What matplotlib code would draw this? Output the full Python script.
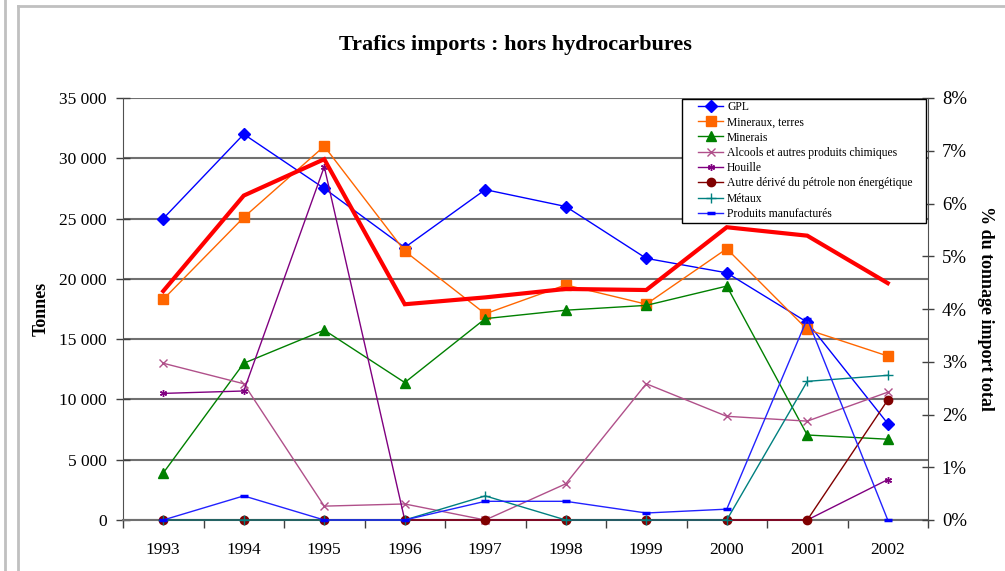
import matplotlib
matplotlib.use("Agg")
import matplotlib.pyplot as plt
from matplotlib.lines import Line2D
from matplotlib.patches import Rectangle
from matplotlib.ticker import FuncFormatter, FixedLocator
import numpy as np

plt.rcParams['font.family'] = ['Liberation Serif', 'DejaVu Serif']

years = ['1993', '1994', '1995', '1996', '1997', '1998', '1999', '2000', '2001', '2002']

gpl = [25000, 32000, 27500, 22600, 27400, 26000, 21700, 20500, 16400, 8000]
mineraux_terres = [18300, 25100, 31000, 22300, 17100, 19500, 17900, 22500, 15800, 13600]
minerais = [3900, 13000, 15750, 11400, 16700, 17400, 17800, 19400, 7050, 6700]
alcools = [13000, 11300, 1150, 1330, 0, 3000, 11300, 8600, 8200, 10600]
houille = [10500, 10700, 29300, 0, 0, 0, 0, 0, 0, 3350]
autre_derive = [0, 0, 0, 0, 0, 0, 0, 0, 0, 9950]
metaux = [0, 0, 0, 0, 2000, 0, 0, 0, 11500, 12000]
produits_manuf = [0, 2000, 0, 0, 1550, 1550, 580, 900, 16700, 0]
part_total = [0.0434, 0.0615, 0.0684, 0.0409, 0.0422, 0.0438, 0.0436, 0.0555, 0.0539, 0.0449]

labels = ['GPL', 'Mineraux, terres', 'Minerais', 'Alcools et autres produits chimiques',
          'Houille', 'Autre dérivé du pétrole non énergétique', 'Métaux', 'Produits manufacturés']

W, H = 1005, 571
fig = plt.figure(figsize=(W / 100, H / 100), dpi=100)
ax = fig.add_axes([123 / W, 1 - 520 / H, (928 - 123) / W, (520 - 98) / H])

x = np.arange(len(years))

series = [
    (gpl, dict(color='#0000FF', marker='D', ms=6, mfc='#0000FF', mec='#0000FF', lw=1.0)),
    (mineraux_terres, dict(color='#FF6600', marker='s', ms=7, mfc='#FF6600', mec='#FF6600', lw=1.0)),
    (minerais, dict(color='#008000', marker='^', ms=7.5, mfc='#008000', mec='#008000', lw=1.0)),
    (alcools, dict(color='#B0508A', marker='x', ms=6, mfc='none', mec='#B0508A', mew=1.0, lw=1.0)),
    (houille, dict(color='#800080', marker=(6, 2, 0), ms=5, mec='#800080', mew=1.0, lw=1.0)),
    (autre_derive, dict(color='#800000', marker='o', ms=6, mfc='#800000', mec='#800000', lw=1.0)),
    (metaux, dict(color='#008080', marker='+', ms=7, mec='#008080', mew=1.0, lw=1.0)),
    (produits_manuf, dict(color='#2222FF', marker='_', ms=6, mec='#0000FF', mew=2.5, lw=1.0)),
]

handles = []
for (vals, style), lab in zip(series, labels):
    h, = ax.plot(x, vals, label=lab, zorder=3, clip_on=False, **style)
    handles.append(h)

ax.set_xlim(-0.5, len(years) - 0.5)
ax.set_ylim(0, 35000)
ax.set_yticks(np.arange(0, 35001, 5000))
ax.yaxis.set_major_formatter(FuncFormatter(lambda v, p: f"{int(v):,}".replace(",", " ")))
ax.set_xticks(x)
ax.set_xticklabels(years)
ax.xaxis.set_minor_locator(FixedLocator(np.arange(-0.5, len(years), 1.0)))
ax.tick_params(axis='x', which='major', length=0, labelsize=12.5, pad=16)
ax.tick_params(axis='x', which='minor', length=6, width=1, color='#404040', direction='out')
ax.tick_params(axis='y', which='major', length=9.5, width=1, color='#404040', direction='inout',
               labelsize=12.5, pad=6.8)
ax.grid(axis='y', color='#707070', lw=1.5, zorder=0)
ax.set_axisbelow(True)
for s in ['top', 'right']:
    ax.spines[s].set_visible(False)
ax.spines['left'].set_color('#505050')
ax.spines['bottom'].set_color('#707070')
ax.spines['bottom'].set_linewidth(1.5)

ax2 = ax.twinx()
ax2.plot(x, part_total, color='#FF0000', lw=3.0, zorder=5, solid_joinstyle='miter')
ax2.set_ylim(0, 0.08)
ax2.set_yticks(np.arange(0, 0.0801, 0.01))
ax2.yaxis.set_major_formatter(FuncFormatter(lambda v, p: f"{v * 100:.0f}%"))
ax2.tick_params(axis='y', which='major', length=8, width=1, color='#404040', direction='inout',
                labelsize=13.5, pad=6)
for s in ['top', 'left', 'bottom']:
    ax2.spines[s].set_visible(False)
ax2.spines['right'].set_color('#505050')

# legend box (drawn as its own frame to get Excel-style padding)
box = Rectangle((682 / W, 1 - 223 / H), (926 - 682) / W, (223 - 99) / H, transform=fig.transFigure,
                facecolor='white', edgecolor='black', lw=1.0, zorder=9)
fig.add_artist(box)
leg = fig.legend(handles=handles, labels=labels, loc='upper left',
                 bbox_to_anchor=(698 / W, 1 - 101 / H), borderaxespad=0,
                 fontsize=8.4, frameon=False, handlelength=2.15, handletextpad=0.35,
                 labelspacing=0.28, borderpad=0)
leg.set_zorder(10)

fig.text(515 / W, 1 - 45 / H, 'Trafics imports : hors hydrocarbures', ha='center', va='center',
         fontsize=16, fontweight='bold')
fig.text(41 / W, 1 - 309 / H, 'Tonnes', rotation=90, ha='center', va='center',
         fontsize=13, fontweight='bold')
fig.text(985 / W, 1 - 308 / H, '% du tonnage import total', rotation=-90, ha='center', va='center',
         fontsize=13, fontweight='bold')

# outer frame lines
fig.add_artist(Line2D([5 / W, 5 / W], [0, 1], color='#c0c0c0', lw=2, transform=fig.transFigure))
fig.add_artist(Line2D([18 / W, 18 / W], [0, 1 - 6 / H], color='#c0c0c0', lw=2, transform=fig.transFigure))
fig.add_artist(Line2D([18 / W, 1], [1 - 6 / H, 1 - 6 / H], color='#c0c0c0', lw=2, transform=fig.transFigure))

fig.savefig('out.png', dpi=100)
